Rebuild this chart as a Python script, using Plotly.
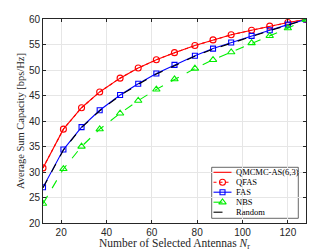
import plotly.graph_objects as go

n_antennas = [12, 21, 29, 37, 46, 54, 62, 70, 79, 87, 95, 104, 112, 120, 128]
qmcmc = [30.8, 38.4, 42.6, 45.7, 48.4, 50.4, 52.0, 53.4, 54.8, 55.9, 56.9, 57.8, 58.6, 59.3, 59.9]
qfas = [30.8, 38.4, 42.6, 45.7, 48.4, 50.4, 52.0, 53.4, 54.8, 55.9, 56.9, 57.8, 58.6, 59.3, 59.9]
fas = [27.0, 34.4, 38.8, 42.1, 45.1, 47.3, 49.3, 51.0, 52.8, 54.2, 55.4, 56.7, 57.8, 58.9, 59.9]
nbs = [23.8, 30.6, 35.0, 38.4, 41.5, 44.0, 46.2, 48.2, 50.3, 52.0, 53.5, 55.3, 56.7, 58.2, 59.9]
rand = [26.9, 34.3, 38.7, 42.0, 45.0, 47.2, 49.2, 50.9, 52.7, 54.1, 55.3, 56.6, 57.7, 58.8, 59.9]
series_names = ["QMCMC-AS(6,3)", "QFAS", "FAS", "NBS", "Random"]

RED, BLUE, GREEN, BLACK = "#ff0000", "#0000ff", "#00ee00", "#000000"
styles = [
    dict(color=RED, dash="solid", symbol=None, size=0),
    dict(color=RED, dash="dot", symbol="circle-open", size=6),
    dict(color=BLUE, dash="solid", symbol="square-open", size=5),
    dict(color=GREEN, dash="dash", symbol="triangle-up-open", size=6.5),
    dict(color=BLACK, dash="dash", symbol=None, size=0),
]
series = [qmcmc, qfas, fas, nbs, rand]

fig = go.Figure()
for name, ys, st in zip(series_names, series, styles):
    kw = dict(x=n_antennas, y=ys, name=name, showlegend=False,
              line=dict(color=st["color"], width=1.1, dash=st["dash"]))
    if st["symbol"]:
        kw["mode"] = "lines+markers"
        kw["marker"] = dict(symbol=st["symbol"], size=st["size"], color=st["color"], line=dict(width=1.1))
    else:
        kw["mode"] = "lines"
    fig.add_trace(go.Scatter(**kw))

# compact legend drawn on an overlay axis spanning the plot area (0..1)
W, H = 335, 251
L, R, T, B = 43, 29, 19, 28
PW, PH = W - L - R, H - T - B
lx0, lx1 = 211.7, 298.3
ly0, ly1 = 167.3, 218.3
row_y = [172.3, 182.3, 192.2, 202.2, 212.2]
sx0, sx1, tx = 213.5, 231.5, 233.5

def fx(px):
    return (px - L) / PW

def fy(py):
    return (H - B - py) / PH

fig.add_shape(type="rect", xref="paper", yref="paper",
              x0=fx(lx0), x1=fx(lx1), y0=fy(ly1), y1=fy(ly0),
              line=dict(color="#262626", width=0.7), fillcolor="white", layer="between")
for name, st, ry in zip(series_names, styles, row_y):
    fig.add_trace(go.Scatter(x=[fx(sx0), fx(sx1)], y=[fy(ry)] * 2, xaxis="x2", yaxis="y2",
                             showlegend=False, hoverinfo="skip", mode="lines",
                             line=dict(color=st["color"], width=1.1, dash=st["dash"])))
    if st["symbol"]:
        fig.add_trace(go.Scatter(x=[fx((sx0 + sx1) / 2)], y=[fy(ry)], xaxis="x2", yaxis="y2",
                                 mode="markers", showlegend=False, hoverinfo="skip",
                                 marker=dict(symbol=st["symbol"], size=st["size"], color=st["color"],
                                             line=dict(width=1.1))))
    fig.add_annotation(xref="paper", yref="paper", x=fx(tx), y=fy(ry),
                       text=name, showarrow=False, xanchor="left", yanchor="middle",
                       font=dict(family="Liberation Serif, Times New Roman", size=8.5, color="#000000"))

axis_common = dict(showline=True, linecolor="#262626", linewidth=1, mirror="ticks",
                   ticks="inside", ticklen=3, tickcolor="#262626", automargin=False,
                   showgrid=True, gridcolor="#e6e6e6", gridwidth=1, zeroline=False,
                   tickfont=dict(family="Liberation Sans, Arial", size=10, color="#262626"))

fig.update_xaxes(range=[12, 128], tickvals=[20, 40, 60, 80, 100, 120],
                 title=dict(text="Number of Selected Antennas <i>N</i><sub>r</sub>",
                            font=dict(family="Liberation Serif, Times New Roman", size=11.5, color="#262626"),
                            standoff=2),
                 **axis_common)
fig.update_yaxes(range=[20, 60], tickvals=[20, 25, 30, 35, 40, 45, 50, 55, 60],
                 title=dict(text="Average Sum Capacity [bps/Hz]",
                            font=dict(family="Liberation Serif, Times New Roman", size=10.5, color="#262626"),
                            standoff=2),
                 **axis_common)

fig.update_layout(
    width=W, height=H,
    margin=dict(l=L, r=R, t=T, b=B),
    paper_bgcolor="white", plot_bgcolor="white",
    showlegend=False,
    xaxis2=dict(range=[0, 1], overlaying="x", visible=False, fixedrange=True),
    yaxis2=dict(range=[0, 1], overlaying="y", visible=False, fixedrange=True),
)

fig.write_html("out.html", config={"displayModeBar": False},
               post_script="document.body.style.margin='0';")
